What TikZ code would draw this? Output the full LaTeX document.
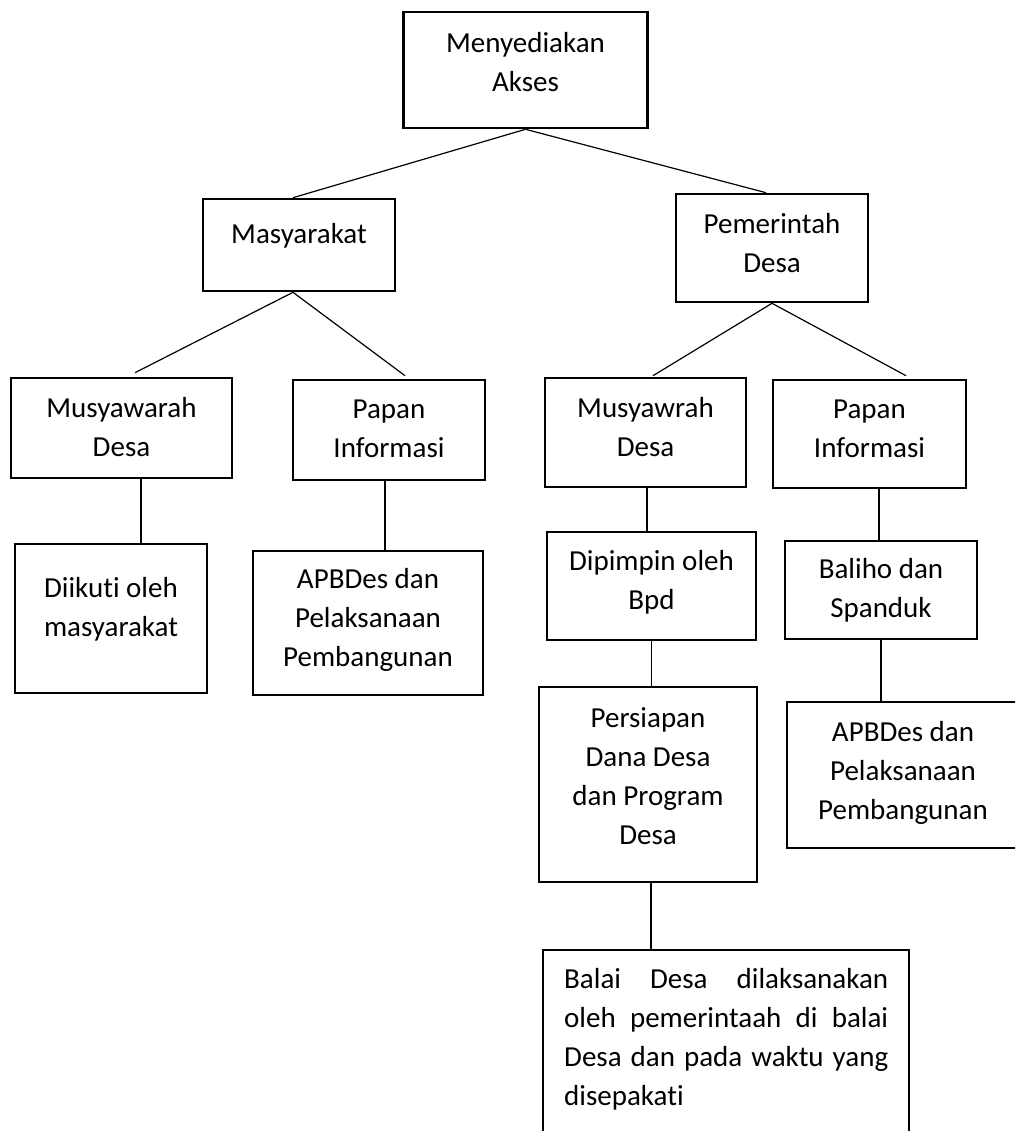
\documentclass[tikz,border=0pt]{standalone}
\usepackage{fontspec}
\setmainfont{Carlito}[Ligatures={NoCommon}]
\usetikzlibrary{calc}
\begin{document}
\begin{tikzpicture}[x=1pt,y=-1pt,
  box/.style={draw=black, line width=2.6pt, inner sep=0pt, rectangle},
  txt/.style={inner sep=0pt, align=center, anchor=north, font=\fontsize{29}{39}\selectfont},
  conn/.style={draw=black, line width=1.2pt}]
\useasboundingbox (0,0) rectangle (1015,1131);
\fill[white] (0,0) rectangle (1015,1131);
\clip (0,0) rectangle (1015,1131);

% boxes
\node[box, minimum width=244pt, minimum height=116pt] (top) at (525.5,70) {};
\node[txt] (ttop) at (525.5,24.7) {\strut Menyediakan\\Akses};
\node[box, minimum width=192pt, minimum height=92pt] (mas) at (299,245) {};
\node[txt] (tmas) at (299,215.7) {\strut Masyarakat};
\node[box, minimum width=192pt, minimum height=108pt] (pem) at (772,248) {};
\node[txt] (tpem) at (772,205.7) {\strut Pemerintah\\Desa};
\node[box, minimum width=221pt, minimum height=100pt] (musL) at (121.5,428) {};
\node[txt] (tmusL) at (121.5,389.7) {\strut Musyawarah\\Desa};
\node[box, minimum width=192pt, minimum height=100pt] (papL) at (389,430) {};
\node[txt] (tpapL) at (389,390.7) {\strut Papan\\Informasi};
\node[box, minimum width=201pt, minimum height=109pt] (musR) at (645.5,432.5) {};
\node[txt] (tmusR) at (645.5,389.7) {\strut Musyawrah\\Desa};
\node[box, minimum width=193pt, minimum height=108pt] (papR) at (869.5,434) {};
\node[txt] (tpapR) at (869.5,390.7) {\strut Papan\\Informasi};
\node[box, minimum width=192pt, minimum height=149pt] (diik) at (111,618.5) {};
\node[txt] (tdiik) at (111,569.7) {\strut Diikut\kern0pt i oleh\\masyarakat};
\node[box, minimum width=230pt, minimum height=144pt] (apbL) at (368,623) {};
\node[txt] (tapbL) at (368,560.7) {\strut APBDes dan\\Pelaksanaan\\Pembangunan};
\node[box, minimum width=209pt, minimum height=108pt] (dip) at (651.5,586) {};
\node[txt] (tdip) at (651.5,542.7) {\strut Dipimpin oleh\\Bpd};
\node[box, minimum width=192pt, minimum height=98pt] (bal) at (881,590) {};
\node[txt] (tbal) at (881,550.7) {\strut Baliho dan\\Spanduk};
\node[box, minimum width=218pt, minimum height=195pt] (per) at (648,784.5) {};
\node[txt] (tper) at (648,699.7) {\strut Persiapan\\Dana Desa\\dan Program\\Desa};
\node[box, minimum width=232pt, minimum height=146pt] (apbR) at (903,775) {};
\node[txt] (tapbR) at (903,713.7) {\strut APBDes dan\\Pelaksanaan\\Pembangunan};
\node[box, minimum width=366pt, minimum height=220pt] (balai) at (726,1060) {};
\node[txt, anchor=north west, align=left, text width=324pt] (tbalai) at (564,960.7)
  {\strut\makebox[324pt][l]{Balai\hfill Desa\hfill dilaksanakan}\\
   \makebox[324pt][l]{oleh\hfill pemerintaah\hfill di\hfill balai}\\
   \makebox[324pt][l]{Desa\hfill dan\hfill pada\hfill waktu\hfill yang}\\
   disepakat\kern0pt i};

% connectors
\draw[conn] (top.south) -- ($(mas.north)+(-6,0)$);
\draw[conn] (top.south) -- ($(pem.north)+(-6,0)$);
\draw[conn] ($(mas.south)+(-6,0)$) -- ($(musL.north)+(13.5,-4)$);
\draw[conn] ($(mas.south)+(-6,0)$) -- ($(papL.north)+(16,-3)$);
\draw[conn] (pem.south) -- ($(musR.north)+(7.5,-1)$);
\draw[conn] (pem.south) -- ($(papR.north)+(36.5,-3)$);

\draw[conn] ($(musL.south)+(19.5,0)$) coordinate (v1) -- (v1 |- diik.north);
\draw[conn] ($(papL.south)+(-4,0)$) coordinate (v2) -- (v2 |- apbL.north);
\draw[conn] ($(musR.south)+(1.5,0)$) coordinate (v3) -- (v3 |- dip.north);
\draw[conn] (dip.south) coordinate (v4) -- (v4 |- per.north);
\draw[conn] ($(papR.south)+(9.5,0)$) coordinate (v5) -- (v5 |- bal.north);
\draw[conn] (bal.south) coordinate (v6) -- (v6 |- apbR.north);
\draw[conn] ($(per.south)+(3,0)$) coordinate (v7) -- (v7 |- balai.north);
\end{tikzpicture}
\end{document}
